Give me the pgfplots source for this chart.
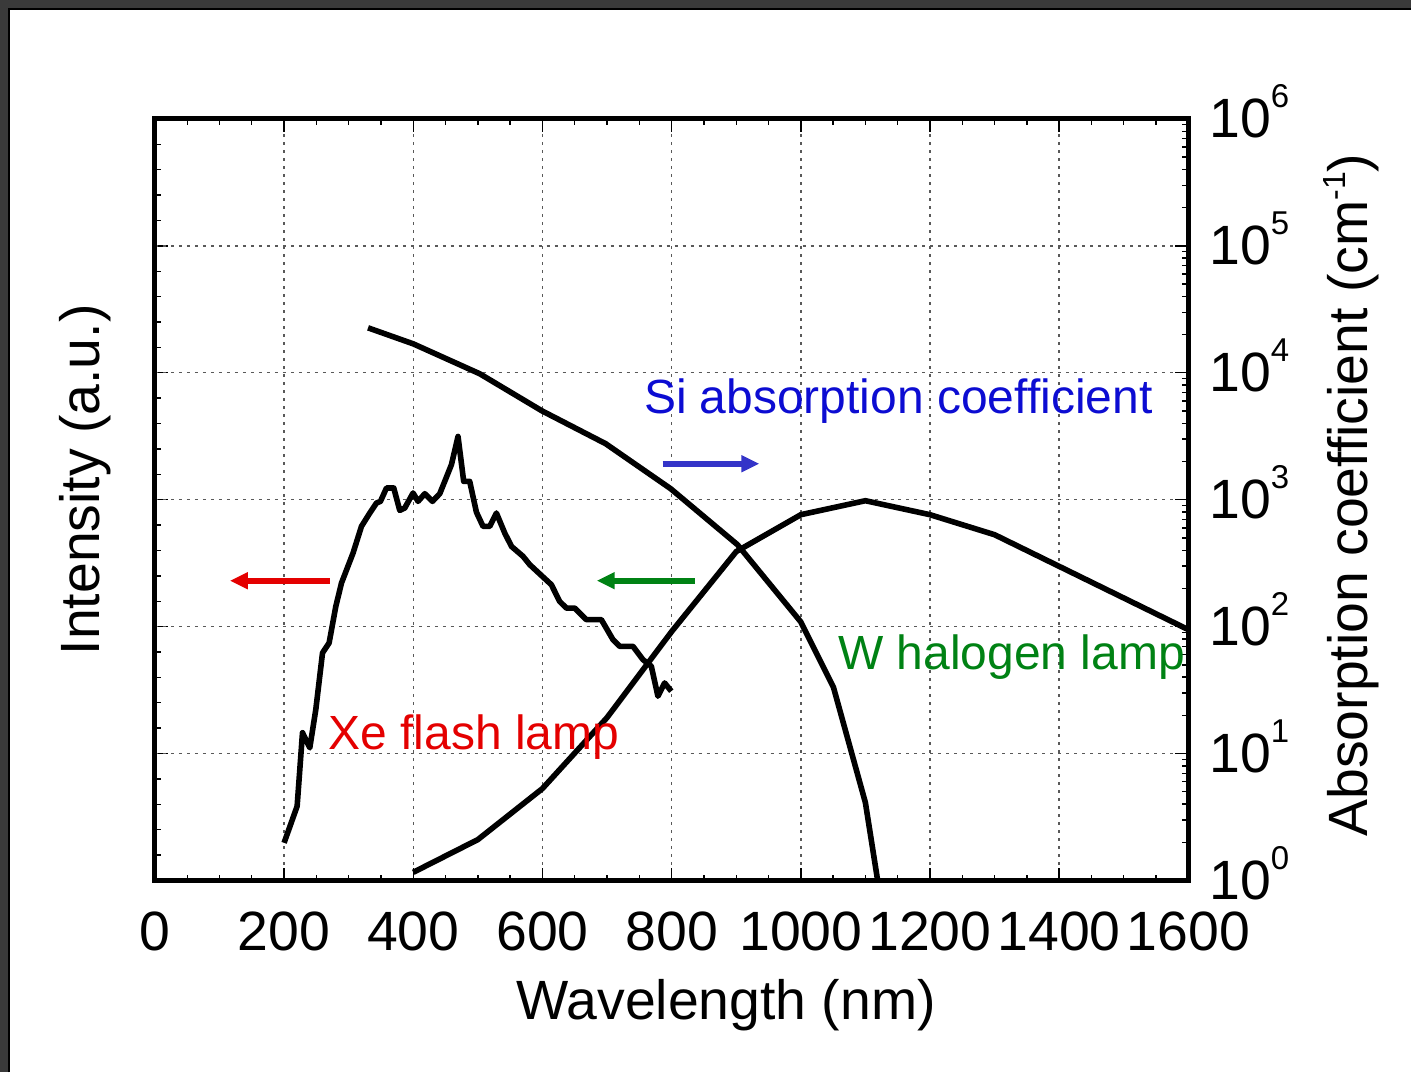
\documentclass[border=0pt]{standalone}
\usepackage{pgfplots}
\pgfplotsset{compat=1.18}
\usepackage{fontspec}
\setmainfont{Liberation Sans}
\usetikzlibrary{arrows.meta}
\definecolor{darkbg}{RGB}{58,58,58}
\definecolor{siblue}{RGB}{12,12,210}
\definecolor{arrblue}{RGB}{52,52,200}
\definecolor{wgreen}{RGB}{0,130,20}
\definecolor{xered}{RGB}{228,0,0}
\newcommand\ticks{\fontsize{27.7}{33}\selectfont}
\newcommand\annot{\fontsize{24}{28}\selectfont}
\newcommand\pw[1]{10\raisebox{15pt}{\fontsize{16.5}{18}\selectfont #1}}
\begin{document}
\begin{tikzpicture}
% page background (screenshot frame)
\fill[darkbg] (-77.5pt,-96pt) rectangle (628.5pt,440.5pt);
\fill[white] (-73.5pt,-96pt) rectangle (628.5pt,436.5pt);
\draw[black,line width=0.8pt] (-73.1pt,-96pt) -- (-73.1pt,436.1pt) -- (628.5pt,436.1pt);
\path[use as bounding box] (-77.5pt,-96pt) rectangle (628.5pt,440.5pt);

% left axis ticks (Intensity, no labels)
\begin{axis}[
  scale only axis, width=517pt, height=381pt,
  xmin=0, xmax=1600, ymin=0, ymax=6,
  ytick={0,1,2,3,4,5,6}, minor y tick num=4,
  yticklabels={}, ytick pos=left,
  xtick=\empty,
  axis line style={draw=none},
  tick style={black, line width=0.7pt},
  major tick length=6.5pt, minor tick length=3pt,
]
\end{axis}

\begin{axis}[
  scale only axis, width=517pt, height=381pt,
  xmin=0, xmax=1600, ymode=log, ymin=1, ymax=1e6,
  xtick={0,200,...,1600}, minor x tick num=3,
  xtick pos=both, xticklabel pos=bottom,
  ytick={1,10,100,1000,10000,100000,1000000},
  yticklabels={\pw{0},\pw{1},\pw{2},\pw{3},\pw{4},\pw{5},\pw{6}},
  ytick pos=right, yticklabel pos=right,
  grid=major,
  major grid style={black!65, line width=0.7pt, dash pattern=on 1.5pt off 2.5pt},
  axis line style={line width=2.5pt},
  tick style={black, line width=0.7pt},
  major tick length=6.5pt, minor tick length=3pt,
  xticklabel style={font=\ticks, yshift=-12pt},
  yticklabel style={font=\ticks, xshift=7pt, yshift=3.8pt},
  /pgf/number format/assume math mode=true,
  /pgf/number format/1000 sep={},
  clip=false,
]
% Xe flash lamp
\addplot[black, line width=2.8pt, line join=round] coordinates {
(200,1.98) (220.2,3.85) (228.5,14.6) (239.8,11.1) (249.1,22.2) (259.5,62.1)
(269.7,74.4) (280.1,144.5) (288.9,220.8) (306.8,380.4) (319.8,616.6) (332.7,785.6)
(343.1,941.9) (349.2,970) (358.5,1236) (369.8,1236) (379.1,824) (386.8,860)
(399.7,1130) (407.4,970) (417.8,1115) (429.7,970) (441.0,1115) (448.7,1393)
(459.1,1888) (469.3,3150) (478.1,1393) (487.4,1393) (497.8,797) (508.0,616.6)
(518.4,616.6) (528.7,785.6) (541.6,547) (552.0,429) (569.9,358) (580.3,308)
(613.8,214) (626.7,158) (637.1,140) (649.9,140) (668.0,113.5) (691.2,113.5)
(709.2,79) (719.5,70) (740.1,70) (755.6,55) (768.6,48.7) (778.8,28.3)
(789.2,36) (799.5,31)
};
% Si absorption coefficient
\addplot[black, line width=2.8pt, line join=round] coordinates {
(330,22600) (400,16900) (503,9820) (599,5020) (698,2760) (798.5,1221)
(902,442) (1000,109) (1050.7,33.1) (1100,4.11) (1119,1)
};
% W halogen lamp
\addplot[black, line width=2.8pt, line join=round] coordinates {
(400,1.16) (500,2.10) (600,5.30) (700,19.2) (800,91.4) (900,390)
(1000,762) (1100,982) (1200,762) (1300,530) (1600,94.7)
};
% arrows
\draw[xered, line width=2.8pt, -{Triangle[length=9pt,width=8pt]}] (axis cs:270.8,230) -- (axis cs:116,230);
\draw[wgreen, line width=2.8pt, -{Triangle[length=9pt,width=8pt]}] (axis cs:835.6,230) -- (axis cs:684,230);
\draw[arrblue, line width=2.8pt, -{Triangle[length=9pt,width=8pt]}] (axis cs:786,1920) -- (axis cs:936,1920);
% annotations
\node[anchor=base west, inner sep=0pt, text=siblue, font=\annot] at (axis cs:756.7,4817) {Si absorption coefficient};
\node[anchor=base west, inner sep=0pt, text=wgreen, font=\annot] at (axis cs:1057.3,45.8) {W halogen lamp};
\node[anchor=base west, inner sep=0pt, text=xered, font=\annot] at (axis cs:268.2,10.75) {Xe flash lamp};
% axis labels
\node[anchor=base, inner sep=0pt, font=\ticks] at ([yshift=-69.5pt]rel axis cs:0.5527,0) {Wavelength (nm)};
\node[anchor=base, inner sep=0pt, rotate=90, font=\ticks] at ([xshift=-27.5pt]rel axis cs:0,0.526) {Intensity (a.u.)};
\node[anchor=base, inner sep=0pt, rotate=90, font=\ticks] at ([xshift=89.5pt]rel axis cs:1,0.506) {Absorption coefficient (cm\raisebox{11pt}{\fontsize{16}{18}\selectfont -1})};
\end{axis}
\end{tikzpicture}
\end{document}
